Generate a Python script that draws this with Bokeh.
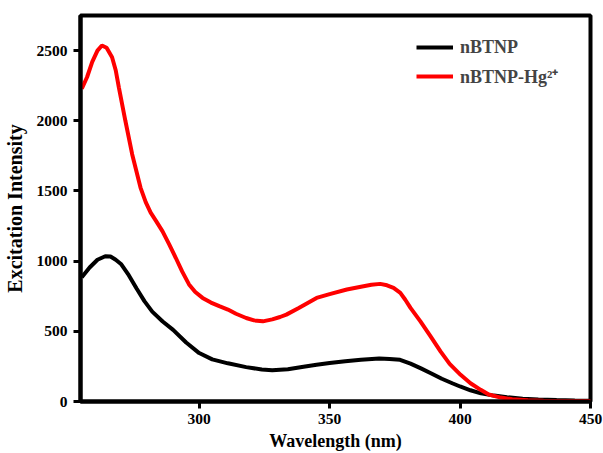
from bokeh.plotting import figure
from bokeh.embed import file_html
from bokeh.resources import INLINE
from bokeh.models import Range1d, FixedTicker, Legend, LegendItem

# Data
wl_black = [255, 258, 261, 264, 266, 268, 270, 273, 276, 279, 282, 286, 290, 295, 300, 305, 311, 318, 324, 328, 334, 340, 345, 350, 356, 362, 369, 373, 377, 381, 385, 389, 393, 397, 400, 404, 408, 413, 418, 424, 430, 437, 444, 450]
int_black = [886, 955, 1010, 1035, 1033, 1010, 980, 900, 805, 715, 640, 570, 510, 420, 345, 300, 272, 245, 228, 222, 230, 248, 262, 274, 287, 298, 306, 303, 297, 270, 236, 200, 162, 130, 107, 80, 58, 42, 30, 20, 14, 10, 7, 6]

wl_red = [255, 257, 259, 261, 262.7, 264.5, 266.6, 268, 269.2, 271.7, 274.3, 277.5, 279.5, 281.4, 283.5, 285.9, 288.5, 291, 293.5, 296.1, 298.5, 301.3, 304.5, 307.7, 311, 314.1, 318, 321, 324.4, 328, 331, 333.4, 338, 345, 350, 356.6, 362, 366, 369.4, 372, 374.5, 377.1, 379, 381, 384.8, 388.7, 392.5, 396, 400.2, 404, 407.9, 411, 415.6, 420, 426, 432, 440, 450]
int_red = [2229, 2310, 2420, 2500, 2536, 2520, 2452, 2360, 2238, 2000, 1762, 1524, 1420, 1345, 1285, 1214, 1120, 1024, 925, 834, 780, 738, 705, 679, 655, 625, 595, 578, 571, 585, 602, 619, 665, 738, 765, 798, 818, 832, 838, 828, 810, 774, 725, 667, 571, 464, 357, 268, 190, 130, 83, 50, 28, 16, 9, 6, 4, 3]

x_ticks = [300, 350, 400, 450]
y_ticks = [0, 500, 1000, 1500, 2000, 2500]
labels = ["nBTNP", "nBTNP-Hg\u00b2\u207a"]

FONT = "Liberation Serif"

p = figure(width=603, height=453, output_backend="svg", toolbar_location=None,
           x_range=Range1d(254.5, 450), y_range=Range1d(0, 2750),
           min_border_left=10, min_border_right=13, min_border_top=15, min_border_bottom=10)

r1 = p.line(wl_black, int_black, line_color="black", line_width=4)
r2 = p.line(wl_red, int_red, line_color="#ff0000", line_width=4)

p.xgrid.visible = False
p.ygrid.visible = False
p.outline_line_color = "black"
p.outline_line_width = 4
p.outline_line_alpha = 1

for ax in (p.xaxis, p.yaxis):
    ax.axis_line_width = 4
    ax.axis_line_color = "black"
    ax.major_tick_line_width = 3
    ax.major_tick_line_color = "black"
    ax.major_tick_out = 7
    ax.major_tick_in = 0
    ax.minor_tick_line_color = None
    ax.major_label_text_font = FONT
    ax.major_label_text_font_style = "bold"
    ax.major_label_text_font_size = "15.5px"
    ax.major_label_text_color = "black"
    ax.axis_label_text_font = FONT
    ax.axis_label_text_font_style = "bold"
    ax.axis_label_text_color = "black"

p.xaxis.axis_label_text_font_size = "18px"
p.yaxis.axis_label_text_font_size = "20px"
p.xaxis.ticker = FixedTicker(ticks=x_ticks)
p.yaxis.ticker = FixedTicker(ticks=y_ticks)
p.xaxis.axis_label = "Wavelength (nm)"
p.yaxis.axis_label = "Excitation Intensity"
p.xaxis.major_label_standoff = 5
p.yaxis.major_label_standoff = 6
p.xaxis.axis_label_standoff = 4
p.yaxis.axis_label_standoff = 8

legend = Legend(items=[LegendItem(label=labels[0], renderers=[r1]),
                       LegendItem(label=labels[1], renderers=[r2])],
                location=(336, 313))
legend.border_line_color = None
legend.background_fill_alpha = 0
legend.label_text_font = FONT
legend.label_text_font_style = "bold"
legend.label_text_font_size = "18px"
legend.glyph_width = 37
legend.glyph_height = 22
legend.label_standoff = 7
legend.spacing = 6
legend.margin = 0
legend.padding = 5
p.add_layout(legend)

open("out.html", "w").write(file_html(p, INLINE))
